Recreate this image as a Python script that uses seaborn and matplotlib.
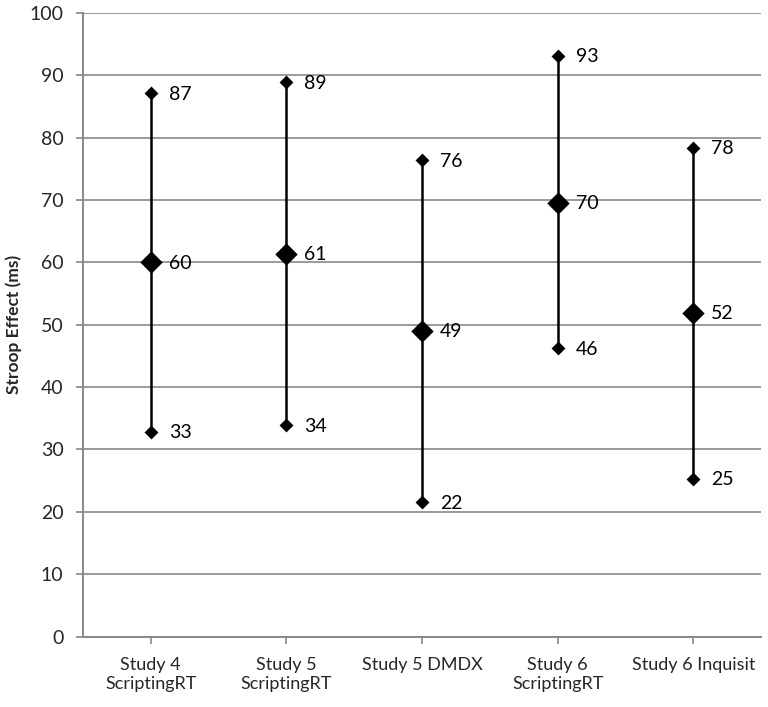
import matplotlib
matplotlib.use("Agg")
import matplotlib.pyplot as plt
import seaborn as sns
import pandas as pd
import numpy as np

categories = ["Study 4\nScriptingRT", "Study 5\nScriptingRT", "Study 5 DMDX",
              "Study 6\nScriptingRT", "Study 6 Inquisit"]
high = [87.1, 88.9, 76.4, 93.1, 78.4]
mid = [60.0, 61.4, 49.0, 69.6, 51.9]
low = [32.8, 33.9, 21.5, 46.2, 25.3]
yticks = [0, 10, 20, 30, 40, 50, 60, 70, 80, 90, 100]

sns.set_theme(style="white")
plt.rcParams['font.family'] = ['Lato', 'DejaVu Sans']

fig = plt.figure(figsize=(7.68, 7.07), dpi=100)
ax = fig.add_axes([0.108, 0.0997, 0.883, 0.882])

pos = np.arange(len(categories))
df = pd.DataFrame({
    "x": np.concatenate([pos, pos, pos]),
    "y": np.concatenate([high, mid, low]),
    "kind": ["high"] * 5 + ["mid"] * 5 + ["low"] * 5,
})

for i in pos:
    ax.plot([i, i], [low[i], high[i]], color="black", lw=1.8, zorder=3)

ends = df[df.kind != "mid"]
mids = df[df.kind == "mid"]
sns.scatterplot(data=ends, x="x", y="y", marker="D", s=50, color="black",
                edgecolor="black", linewidth=0, ax=ax, zorder=4, legend=False)
sns.scatterplot(data=mids, x="x", y="y", marker="D", s=130, color="black",
                edgecolor="black", linewidth=0, ax=ax, zorder=4, legend=False)

for _, r in df.iterrows():
    ax.annotate(f"{round(r.y):d}", (r.x, r.y), xytext=(18, -1),
                textcoords="offset pixels",
                va="center", ha="left", fontsize=14, color="black")

ax.set_xlim(-0.5, len(categories) - 0.5)
ax.set_ylim(0, 100)
ax.set_yticks(yticks)
ax.set_xticks(pos)
ax.set_xticklabels(categories, fontsize=13)
ax.tick_params(axis="y", labelsize=14, length=5, width=1.2, color="#888888",
               direction="out", left=True, pad=9)
ax.tick_params(axis="x", length=5, width=1.2, color="#888888",
               direction="out", bottom=True, pad=10)
ax.yaxis.grid(True, color="#9a9a9a", lw=1.4)
ax.xaxis.grid(False)
ax.set_axisbelow(True)
for s in ["top", "right"]:
    ax.spines[s].set_visible(False)
for s in ["left", "bottom"]:
    ax.spines[s].set_color("#888888")
    ax.spines[s].set_linewidth(1.4)
ax.set_xlabel("")
ax.set_ylabel("Stroop Effect (ms)", fontsize=12.5, fontweight="bold")
ax.yaxis.set_label_coords(-0.09, 0.5)

fig.savefig("out.png", dpi=100)
